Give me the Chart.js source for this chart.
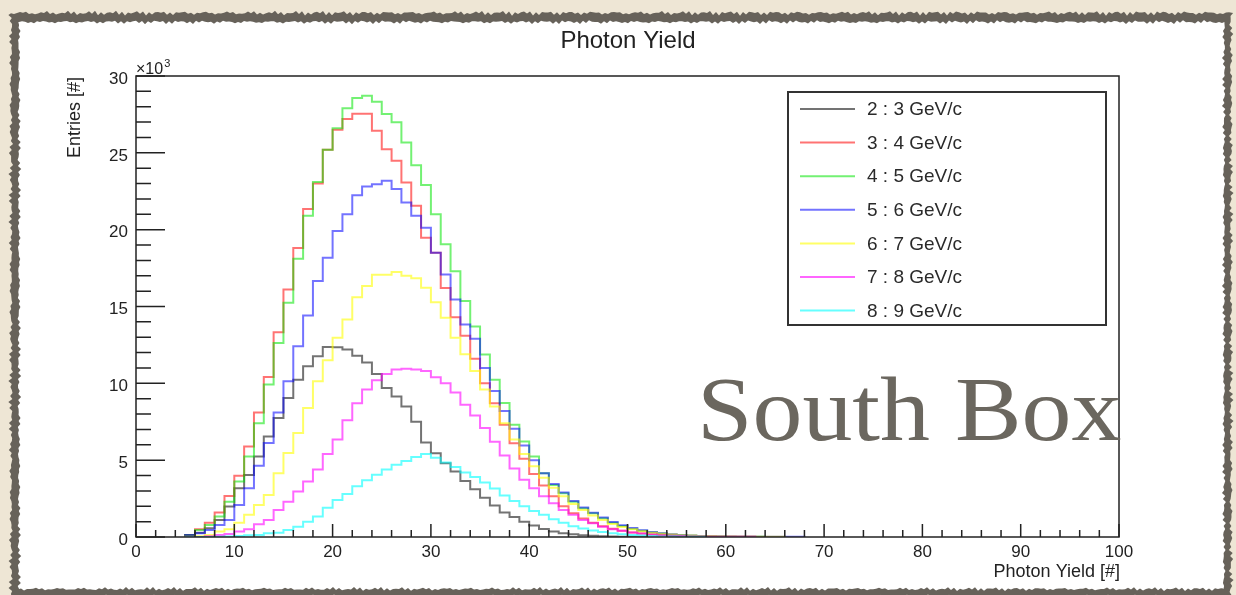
<!DOCTYPE html>
<html>
<head>
<meta charset="utf-8">
<title>Photon Yield</title>
<script src="https://cdn.jsdelivr.net/npm/chart.js@4.4.1/dist/chart.umd.min.js"></script>
<style>
  html, body { margin: 0; padding: 0; background: #eee6d5; }
  #wrap { position: relative; width: 1236px; height: 595px; overflow: hidden; }
  #c { position: absolute; left: 0; top: 0; }
  #stamp {
    position: absolute; left: 697px; top: 363px;
    font-family: 'Liberation Serif', 'DejaVu Serif', serif;
    font-size: 92px; line-height: 92px;
    transform: scaleX(1.085); transform-origin: left top;
    color: #6b675f; white-space: nowrap;
  }
</style>
</head>
<body>
<div id="wrap">
  <canvas id="c" width="1236" height="595"></canvas>
  <div id="stamp">South Box</div>
</div>
<script>
// histogram bins are 1 photon wide; every series starts at bin 5
const binStart = 5;
const binWidth = 1;

const seriesLabels = ['2 : 3 GeV/c', '3 : 4 GeV/c', '4 : 5 GeV/c', '5 : 6 GeV/c', '6 : 7 GeV/c', '7 : 8 GeV/c', '8 : 9 GeV/c'];
const seriesColors = ['rgba(0,0,0,0.55)', 'rgba(255,0,0,0.55)', 'rgba(0,230,0,0.55)', 'rgba(0,0,255,0.55)',
                      'rgba(255,255,0,0.6)', 'rgba(255,0,255,0.6)', 'rgba(0,255,255,0.6)'];

// entries per bin, in units of 10^3 (bins 5, 6, 7, ...)
const p2to3 = [0.03, 0.11, 0.28, 0.57, 1.11, 1.98, 3.17, 4.04, 5.24, 6.54, 7.74, 9.05, 10.24, 11.11, 11.76,
  12.37, 12.35, 12.2, 11.8, 11.35, 10.6, 9.7, 9.15, 8.5, 7.5, 6.15, 5.45, 4.8, 4.26, 3.65,
  3.1, 2.55, 2.05, 1.6, 1.3, 1.0, 0.75, 0.52, 0.36, 0.25, 0.18, 0.12, 0.08, 0.05, 0.03, 0.02, 0.01];
const p3to4 = [0.03, 0.13, 0.5, 0.93, 1.59, 2.67, 3.98, 5.89, 8.11, 10.42, 13.33, 16.11, 18.8, 21.35, 23.0,
  25.2, 26.5, 27.2, 27.55, 27.55, 26.44, 25.24, 24.48, 23.07, 21.55, 19.48, 18.5, 16.2, 14.3, 13.1,
  11.6, 10.0, 8.7, 7.3, 6.1, 5.1, 4.1, 3.35, 2.65, 2.0, 1.55, 1.2, 0.92, 0.7, 0.53,
  0.4, 0.3, 0.23, 0.17, 0.13, 0.1, 0.07, 0.05, 0.04, 0.03, 0.02, 0.02, 0.01];
const p4to5 = [0.02, 0.13, 0.46, 0.78, 1.33, 2.3, 3.61, 5.24, 7.41, 9.92, 12.63, 15.24, 18.1, 20.9, 23.1,
  25.2, 26.6, 27.9, 28.57, 28.72, 28.33, 27.53, 26.99, 25.68, 24.2, 22.9, 21.0, 19.05, 17.3, 15.35,
  13.7, 11.87, 10.24, 8.72, 7.31, 6.22, 5.24, 4.15, 3.39, 2.85, 2.3, 1.87, 1.55, 1.22, 0.93,
  0.72, 0.54, 0.41, 0.3, 0.22, 0.15, 0.11, 0.08, 0.06, 0.04, 0.03, 0.02, 0.02, 0.01];
const p5to6 = [0.07, 0.13, 0.24, 0.46, 0.78, 1.11, 2.09, 3.17, 4.63, 6.11, 8.11, 10.13, 12.42, 14.42, 16.66,
  18.18, 19.92, 21.0, 22.24, 22.81, 22.96, 23.18, 22.64, 21.77, 20.9, 20.13, 18.5, 17.09, 15.46, 13.83,
  12.9, 11.0, 9.5, 8.2, 7.05, 5.95, 5.0, 4.15, 3.45, 2.9, 2.35, 1.92, 1.58, 1.27, 0.98,
  0.76, 0.58, 0.44, 0.33, 0.25, 0.18, 0.13, 0.1, 0.07, 0.05, 0.04, 0.03, 0.02, 0.02, 0.01, 0.01, 0.01, 0.01];
const p6to7 = [0.0, 0.02, 0.05, 0.13, 0.35, 0.5, 0.93, 1.44, 2.09, 2.74, 4.15, 5.46, 6.76, 8.39, 10.13,
  11.5, 12.96, 14.16, 15.6, 16.33, 17.06, 17.07, 17.25, 17.0, 16.84, 16.22, 15.27, 14.26, 12.96, 11.9,
  10.8, 9.6, 8.5, 7.4, 6.35, 5.4, 4.6, 3.85, 3.2, 2.65, 2.15, 1.75, 1.4, 1.1, 0.85,
  0.65, 0.5, 0.38, 0.28, 0.21, 0.16, 0.12, 0.09, 0.07, 0.05, 0.04, 0.03, 0.02, 0.02, 0.01, 0.01];
const p7to8 = [0.0, 0.0, 0.0, 0.05, 0.13, 0.2, 0.35, 0.5, 0.83, 1.11, 1.76, 2.3, 2.96, 3.61, 4.4,
  5.4, 6.35, 7.6, 8.7, 9.6, 10.2, 10.6, 10.9, 10.95, 10.9, 10.8, 10.4, 10.0, 9.4, 8.6,
  7.9, 7.1, 6.2, 5.3, 4.45, 3.72, 3.17, 2.65, 2.2, 1.76, 1.44, 1.11, 0.89, 0.67, 0.5,
  0.4, 0.3, 0.22, 0.16, 0.12, 0.08, 0.06, 0.04, 0.03, 0.02, 0.02, 0.01, 0.01];
const p8to9 = [0.0, 0.0, 0.0, 0.0, 0.02, 0.04, 0.07, 0.11, 0.13, 0.24, 0.28, 0.46, 0.67, 1.0, 1.33,
  1.9, 2.4, 2.8, 3.3, 3.7, 4.05, 4.4, 4.7, 4.95, 5.2, 5.4, 5.15, 4.85, 4.55, 4.2,
  3.9, 3.55, 3.15, 2.7, 2.35, 2.0, 1.7, 1.45, 1.15, 0.92, 0.7, 0.55, 0.42, 0.32, 0.24,
  0.18, 0.13, 0.09, 0.06, 0.04, 0.03, 0.02, 0.01];
const seriesValues = [p2to3, p3to4, p4to5, p5to6, p6to7, p7to8, p8to9];

const xTickMajor = 10, xTickMinor = 2;
const yTickMajor = 5, yTickMinor = 1;

const SANS = "'Liberation Sans', Arial, Helvetica, sans-serif";
const INK = '#222';

// turn bin contents into outline points: up at the first edge, flat over each bin, down at the end
function histPoints(values) {
  const pts = [{ x: binStart, y: 0 }];
  values.forEach((v, i) => pts.push({ x: binStart + i * binWidth, y: v }));
  const end = binStart + values.length * binWidth;
  pts.push({ x: end, y: values[values.length - 1] });
  pts.push({ x: end, y: 0 });
  return pts;
}

// wobbly edge for the paper card
function wobble(t, seed) {
  return 1.3 * Math.sin(t * 0.91 + seed) + 0.9 * Math.sin(t * 2.37 + seed * 2) + 0.6 * Math.sin(t * 5.13 + seed * 3);
}
function raggedRect(ctx, x0, y0, x1, y1, amp, seed) {
  ctx.beginPath();
  const step = 3;
  for (let x = x0; x <= x1; x += step) ctx.lineTo(x, y0 + amp * wobble(x, seed));
  for (let y = y0; y <= y1; y += step) ctx.lineTo(x1 + amp * wobble(y, seed + 1), y);
  for (let x = x1; x >= x0; x -= step) ctx.lineTo(x, y1 + amp * wobble(x, seed + 2));
  for (let y = y1; y >= y0; y -= step) ctx.lineTo(x0 + amp * wobble(y, seed + 3), y);
  ctx.closePath();
}

const paperPlugin = {
  id: 'paper',
  beforeDraw(chart) {
    const ctx = chart.ctx;
    ctx.save();
    ctx.fillStyle = '#eee6d5';
    ctx.fillRect(0, 0, chart.width, chart.height);
    ctx.fillStyle = '#67625a';
    raggedRect(ctx, 11, 13, 1231, 597, 1, 0.3);
    ctx.fill();
    ctx.fillStyle = '#ffffff';
    raggedRect(ctx, 19, 22, 1224, 589, 0.8, 1.7);
    ctx.fill();
    ctx.restore();
  }
};

// ROOT style frame: box, inward ticks, exponent, axis titles, main title
const rootFramePlugin = {
  id: 'rootFrame',
  afterDatasetsDraw(chart) {
    const { ctx, chartArea: a, scales: { x, y } } = chart;
    ctx.save();
    ctx.strokeStyle = INK;
    ctx.lineWidth = 1.5;
    ctx.strokeRect(a.left, a.top, a.right - a.left, a.bottom - a.top);

    ctx.beginPath();
    for (let v = x.min; v <= x.max; v += xTickMinor) {
      const px = x.getPixelForValue(v);
      const len = v % xTickMajor === 0 ? 13 : 7;
      ctx.moveTo(px, a.bottom);
      ctx.lineTo(px, a.bottom - len);
    }
    for (let v = y.min; v <= y.max; v += yTickMinor) {
      const py = y.getPixelForValue(v);
      const len = v % yTickMajor === 0 ? 29 : 15;
      ctx.moveTo(a.left, py);
      ctx.lineTo(a.left + len, py);
    }
    ctx.stroke();

    ctx.fillStyle = INK;
    ctx.textBaseline = 'alphabetic';
    ctx.textAlign = 'left';
    ctx.font = '16px ' + SANS;
    ctx.fillText('\u00d710', a.left, a.top - 2);
    const w = ctx.measureText('\u00d710').width;
    ctx.font = '11px ' + SANS;
    ctx.fillText('3', a.left + w + 1, a.top - 9);

    ctx.font = '18px ' + SANS;
    ctx.textAlign = 'right';
    ctx.fillText('Photon Yield [#]', a.right + 1, 577);

    ctx.save();
    ctx.translate(80, a.top + 1);
    ctx.rotate(-Math.PI / 2);
    ctx.textAlign = 'right';
    ctx.fillText('Entries [#]', 0, 0);
    ctx.restore();

    ctx.font = '24px ' + SANS;
    ctx.textAlign = 'center';
    ctx.fillText('Photon Yield', 628, 48);
    ctx.restore();
  }
};

const legendBoxPlugin = {
  id: 'legendBox',
  afterDraw(chart) {
    const { ctx, chartArea: a } = chart;
    const box = { left: a.right - 331, top: a.top + 16, width: 318, height: 233 };
    const rowH = 33.6;
    ctx.save();
    ctx.fillStyle = '#fff';
    ctx.fillRect(box.left, box.top, box.width, box.height);
    ctx.strokeStyle = '#333';
    ctx.lineWidth = 2;
    ctx.strokeRect(box.left, box.top, box.width, box.height);
    ctx.font = '19px ' + SANS;
    ctx.textBaseline = 'middle';
    ctx.textAlign = 'left';
    seriesLabels.forEach((label, i) => {
      const cy = box.top + 17 + i * rowH;
      ctx.strokeStyle = seriesColors[i];
      ctx.lineWidth = 2;
      ctx.beginPath();
      ctx.moveTo(box.left + 12, cy);
      ctx.lineTo(box.left + 67, cy);
      ctx.stroke();
      ctx.fillStyle = '#2a2a2a';
      ctx.fillText(label, box.left + 79, cy + 1);
    });
    ctx.restore();
  }
};

const datasets = seriesValues.map((vals, i) => ({
  label: seriesLabels[i],
  data: histPoints(vals),
  borderColor: seriesColors[i],
  borderWidth: 2,
  stepped: 'after',
  pointRadius: 0,
  fill: false,
  order: seriesValues.length - i
}));

new Chart(document.getElementById('c'), {
  type: 'line',
  data: { datasets },
  options: {
    responsive: false,
    animation: false,
    events: [],
    layout: { padding: { left: 0, top: 76, right: 117, bottom: 0 } },
    plugins: { legend: { display: false }, tooltip: { enabled: false }, title: { display: false } },
    scales: {
      x: {
        type: 'linear', min: 0, max: 100,
        ticks: { stepSize: xTickMajor, padding: 5, color: INK, font: { family: SANS, size: 17 }, maxRotation: 0, autoSkip: false },
        grid: { display: false, drawTicks: false },
        border: { display: false },
        afterFit: s => { s.height = 58; }
      },
      y: {
        type: 'linear', min: 0, max: 30,
        ticks: { stepSize: yTickMajor, padding: 8, labelOffset: 3, color: INK, font: { family: SANS, size: 17 } },
        grid: { display: false, drawTicks: false },
        border: { display: false },
        afterFit: s => { s.width = 136; }
      }
    }
  },
  plugins: [paperPlugin, rootFramePlugin, legendBoxPlugin]
});
</script>
</body>
</html>
